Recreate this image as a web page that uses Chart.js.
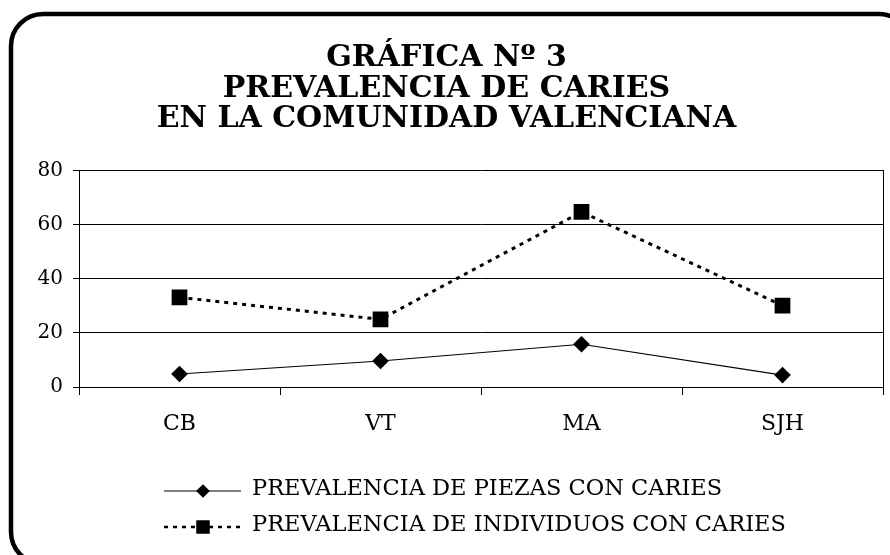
<!DOCTYPE html>
<html>

<head>
  <title>Prevalencia de caries</title>
  <script src="https://cdn.jsdelivr.net/npm/chart.js"></script>
  <style>
    html, body { margin: 0; background: #fff; overflow: hidden; }
  </style>
</head>

<body>
  <!-- a little wider than the window: the frame runs off the right edge -->
  <canvas id="cariesChart" width="895" height="555"></canvas>
  <script>
    // categories (zonas)
    var zonas = ['CB', 'VT', 'MA', 'SJH'];
    // series values
    var piezasConCaries = [4.8, 9.6, 15.8, 4.4];
    var individuosConCaries = [33.1, 25.0, 64.7, 30.1];
    // y axis
    var yMin = 0;
    var yMax = 80;
    var yStep = 20;
    var tituloLineas = ['GRÁFICA Nº 3', 'PREVALENCIA DE CARIES', 'EN LA COMUNIDAD VALENCIANA'];

    var serif = '"DejaVu Serif", "Liberation Serif", serif';

    // rounded frame around the whole figure
    var marcoPlugin = {
      id: 'marco',
      afterDraw: function (chart) {
        var ctx = chart.ctx;
        var x = 11, y = 14, w = 900, h = 550, r = 32;
        ctx.save();
        ctx.lineWidth = 4.5;
        ctx.strokeStyle = '#000';
        ctx.beginPath();
        ctx.moveTo(x + r, y);
        ctx.arcTo(x + w, y, x + w, y + h, r);
        ctx.arcTo(x + w, y + h, x, y + h, r);
        ctx.arcTo(x, y + h, x, y, r);
        ctx.arcTo(x, y, x + w, y, r);
        ctx.closePath();
        ctx.stroke();
        ctx.restore();
      }
    };

    // legend: line sample with marker in the middle, then the label
    var leyendaPlugin = {
      id: 'leyenda',
      afterDraw: function (chart) {
        var ctx = chart.ctx;
        var filas = [490, 526];
        chart.data.datasets.forEach(function (ds, i) {
          var y = filas[i];
          ctx.save();
          ctx.strokeStyle = '#000';
          ctx.lineWidth = ds.legendLineWidth;
          ctx.setLineDash(ds.legendDash);
          ctx.beginPath();
          ctx.moveTo(164, y + 1);
          ctx.lineTo(241, y + 1);
          ctx.stroke();
          ctx.setLineDash([]);
          ctx.fillStyle = '#000';
          Chart.helpers.drawPoint(ctx, {
            pointStyle: ds.pointStyle,
            radius: ds.legendRadius,
            rotation: 0,
            borderWidth: 1
          }, 203, y + 1);
          ctx.fill();
          ctx.font = '22.5px ' + serif;
          ctx.textBaseline = 'middle';
          ctx.fillText(ds.label, 252, y - 1);
          ctx.restore();
        });
      }
    };

    var chart = new Chart(document.getElementById('cariesChart'), {
      type: 'line',
      data: {
        labels: zonas,
        datasets: [
          {
            label: 'PREVALENCIA DE PIEZAS CON CARIES',
            data: piezasConCaries,
            borderColor: '#000',
            backgroundColor: '#000',
            borderWidth: 1.2,
            pointStyle: 'rectRot',
            pointRadius: 7.5,
            pointBackgroundColor: '#000',
            pointBorderColor: '#000',
            tension: 0,
            legendLineWidth: 1.2,
            legendDash: [],
            legendRadius: 6
          },
          {
            label: 'PREVALENCIA DE INDIVIDUOS CON CARIES',
            data: individuosConCaries,
            borderColor: '#000',
            backgroundColor: '#000',
            borderWidth: 3,
            borderDash: [4, 5],
            pointStyle: 'rect',
            pointRadius: 9,
            pointBackgroundColor: '#000',
            pointBorderColor: '#000',
            tension: 0,
            legendLineWidth: 2.5,
            legendDash: [4, 5],
            legendRadius: 7.8
          }
        ]
      },
      options: {
        responsive: false,
        animation: false,
        layout: { padding: { left: 0, right: 2, top: 0, bottom: 0 } },
        plugins: {
          legend: { display: false },
          tooltip: { enabled: false },
          title: {
            display: true,
            text: tituloLineas,
            color: '#000',
            font: { family: serif, size: 30, weight: 'bold', lineHeight: 30.5 / 30 },
            padding: { top: 43, bottom: 36 }
          }
        },
        scales: {
          x: {
            offset: true,
            grid: { display: true, drawOnChartArea: false, color: '#000', tickLength: 8, offset: true },
            border: { display: true, color: '#000', width: 1 },
            ticks: { color: '#000', font: { family: serif, size: 22 }, padding: 16 },
            afterFit: function (scale) {
              scale.height = 168;
              scale.paddingLeft = 0;
              scale.paddingRight = 0;
            }
          },
          y: {
            min: yMin,
            max: yMax,
            ticks: { stepSize: yStep, color: '#000', font: { family: serif, size: 20 }, padding: 10 },
            grid: { color: '#000', lineWidth: 1, tickLength: 6 },
            border: { display: true, color: '#000', width: 1 },
            afterFit: function (scale) { scale.width = 79; }
          },
          y2: {
            position: 'right',
            min: yMin,
            max: yMax,
            ticks: { display: false },
            grid: { display: false },
            border: { display: true, color: '#000', width: 1 },
            afterFit: function (scale) { scale.width = 0; }
          }
        }
      },
      plugins: [marcoPlugin, leyendaPlugin]
    });
  </script>
</body>

</html>
